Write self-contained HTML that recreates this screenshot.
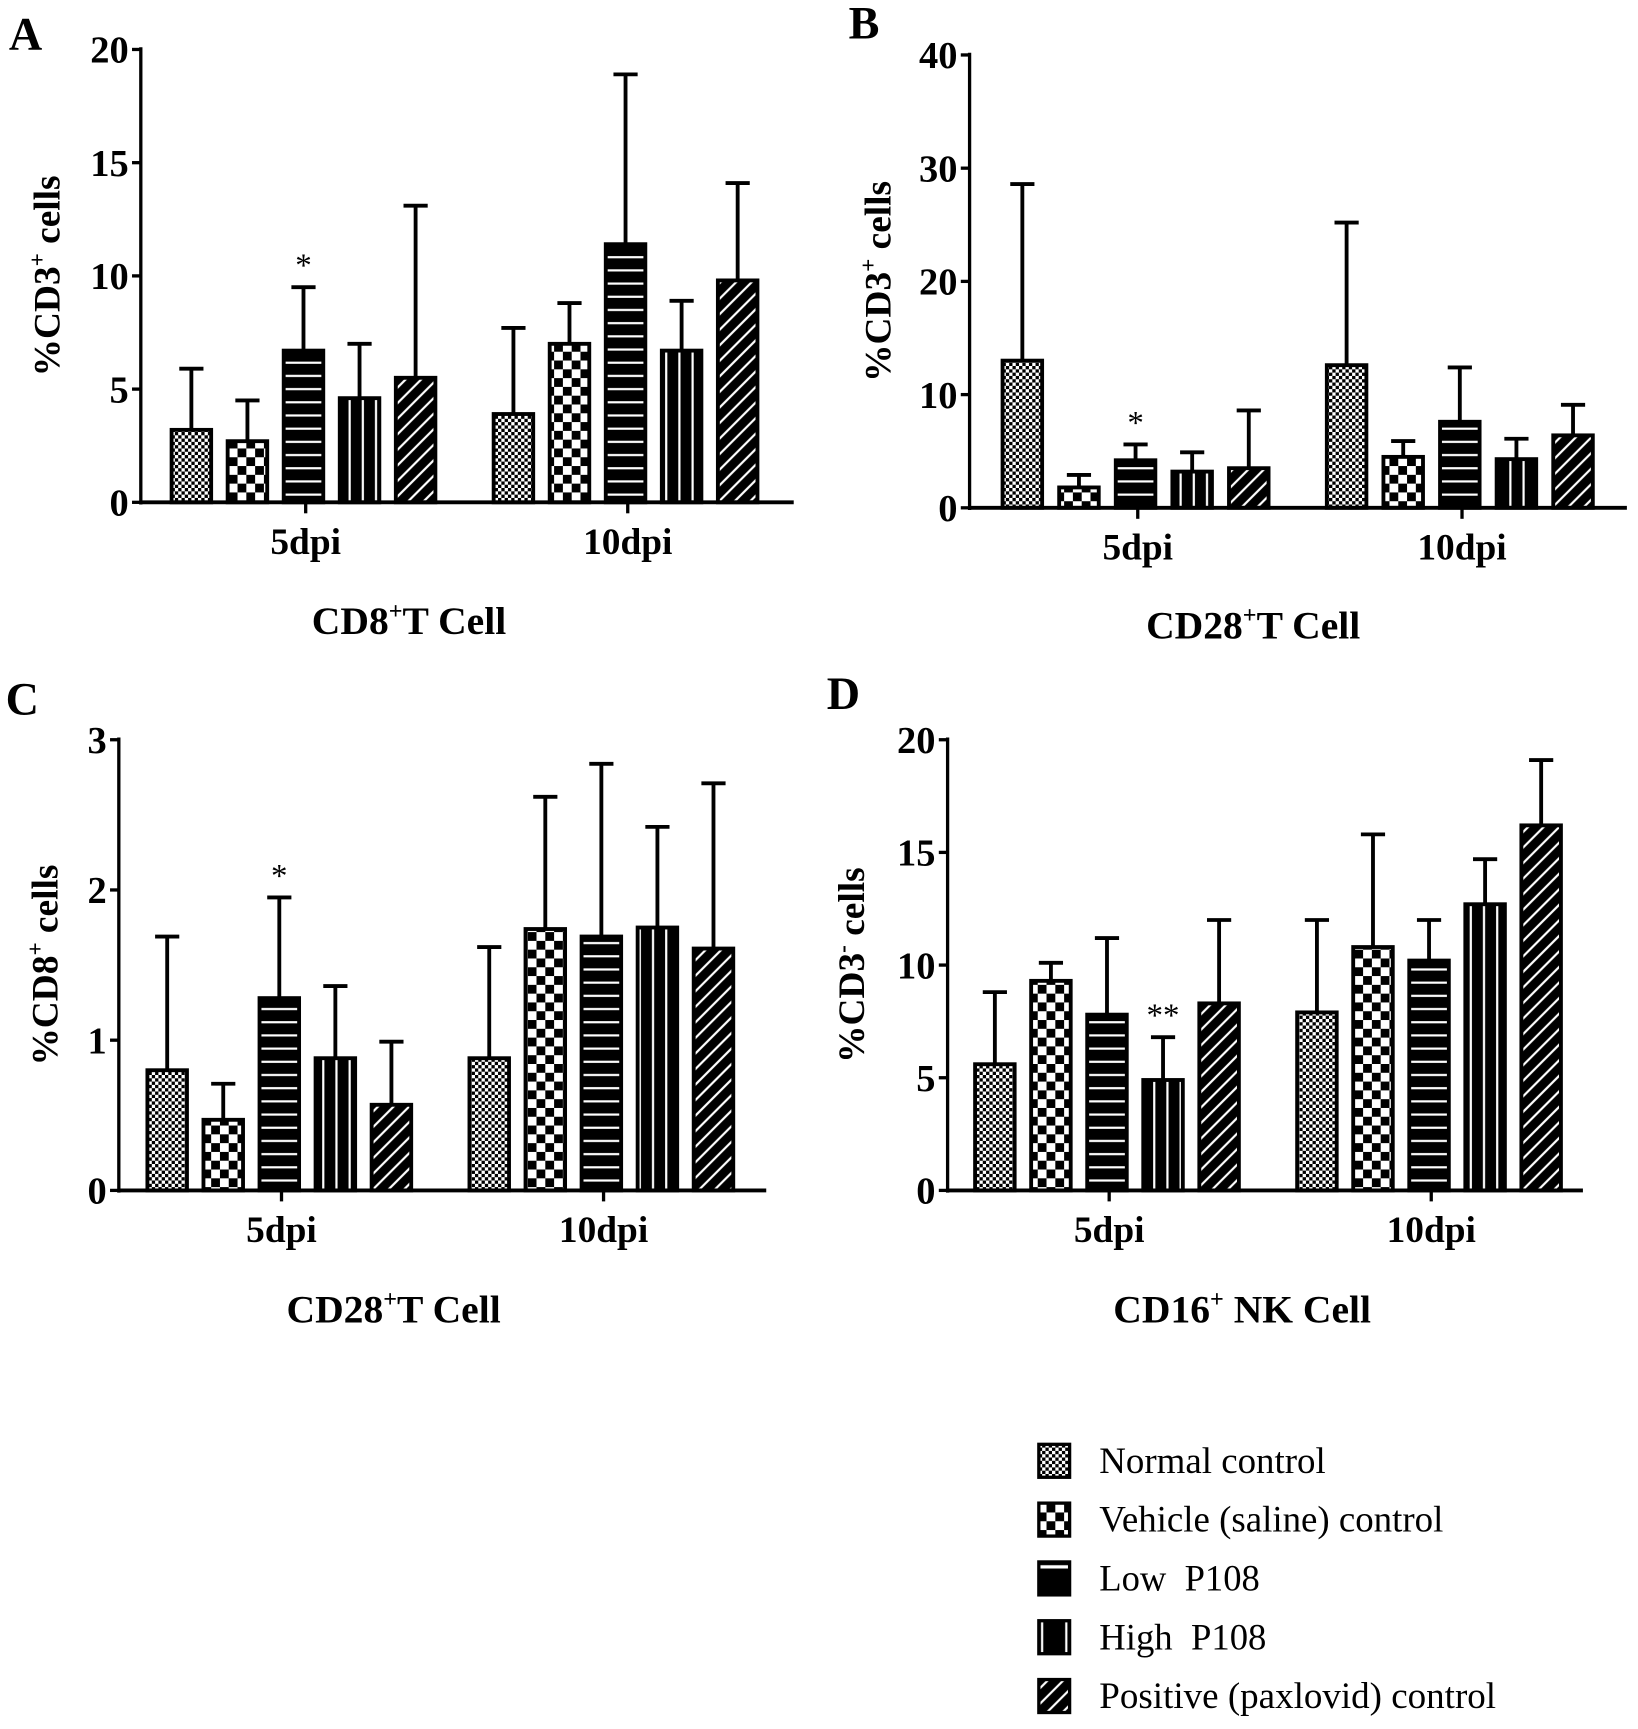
<!DOCTYPE html>
<html><head><meta charset="utf-8">
<style>
html,body{margin:0;padding:0;background:#fff;}
svg{display:block;}
text{font-family:"Liberation Serif",serif;fill:#000;}
.b{font-weight:bold;}
</style></head>
<body>
<svg id="fig" width="1638" height="1729" viewBox="0 0 1490 1573" xmlns="http://www.w3.org/2000/svg">
<defs>
<pattern id="p0" width="6" height="6" patternUnits="userSpaceOnUse"><rect width="6" height="6" fill="#fff"/><rect width="3" height="3" fill="#000"/><rect x="3" y="3" width="3" height="3" fill="#000"/></pattern>
<pattern id="p1" width="16" height="16" patternUnits="userSpaceOnUse"><rect width="16" height="16" fill="#fff"/><rect width="8" height="8" fill="#000"/><rect x="8" y="8" width="8" height="8" fill="#000"/></pattern>
<pattern id="p2" width="10" height="12" patternUnits="userSpaceOnUse"><rect width="10" height="12" fill="#000"/><rect y="5" width="10" height="2" fill="#fff"/></pattern>
<pattern id="p3" width="12" height="10" patternUnits="userSpaceOnUse"><rect width="12" height="10" fill="#000"/><rect x="5" width="2" height="10" fill="#fff"/></pattern>
<pattern id="p4" width="10" height="10" patternUnits="userSpaceOnUse" patternTransform="rotate(45)"><rect width="10" height="10" fill="#000"/><rect x="4" width="2" height="10" fill="#fff"/></pattern>
<pattern id="l2" width="30" height="30" patternUnits="userSpaceOnUse"><rect width="30" height="30" fill="#000"/><rect y="14" width="30" height="3" fill="#fff"/></pattern>
<pattern id="l3" width="30" height="30" patternUnits="userSpaceOnUse"><rect width="30" height="30" fill="#000"/><rect x="9" width="2" height="30" fill="#fff"/><rect x="17" width="2" height="30" fill="#fff"/></pattern>
</defs>
<g id="root"></g>
</svg>
<script>
// Panel A data
const aCats = ["5dpi","10dpi"];
const aMean = [[3.2,2.7,6.7,4.6,5.5],[3.9,7.0,11.4,6.7,9.8]];
const aErr  = [[5.9,4.5,9.5,7.0,13.1],[7.7,8.8,18.9,8.9,14.1]];
const aTicks = [0,5,10,15,20];
// Panel B data
const bMean = [[13.0,1.8,4.2,3.2,3.5],[12.6,4.5,7.6,4.3,6.4]];
const bErr  = [[28.6,2.9,5.6,4.9,8.6],[25.2,5.9,12.4,6.1,9.1]];
const bTicks = [0,10,20,30,40];
// Panel C data
const cMean = [[0.80,0.47,1.28,0.88,0.57],[0.88,1.74,1.69,1.75,1.61]];
const cErr  = [[1.69,0.71,1.95,1.36,0.99],[1.62,2.62,2.84,2.42,2.71]];
const cTicks = [0,1,2,3];
// Panel D data
const dMean = [[5.6,9.3,7.8,4.9,8.3],[7.9,10.8,10.2,12.7,16.2]];
const dErr  = [[8.8,10.1,11.2,6.8,12.0],[12.0,15.8,12.0,14.7,19.1]];
const dTicks = [0,5,10,15,20];
const seriesNames = ["Normal control","Vehicle (saline) control","Low\u00a0 P108","High\u00a0 P108","Positive (paxlovid) control"];

const NS="http://www.w3.org/2000/svg";
const root=document.getElementById('root');
function mk(tag,attrs,parent,txt){const e=document.createElementNS(NS,tag);for(const k in attrs)e.setAttribute(k,attrs[k]);if(txt!==undefined)e.textContent=txt;(parent||root).appendChild(e);return e;}

function panel(cfg){
  const g=mk('g',{});
  
  
  const x0=cfg.x0,x1=cfg.x1,yT=cfg.yTop,yZ=cfg.yZero,max=cfg.ticks[cfg.ticks.length-1];
  const ys=v=>yZ-(v/max)*(yZ-yT);
  const xs=(gi,si)=>cfg.g0[gi]+si*cfg.step;
  const bw=36;
  for(let gi=0;gi<2;gi++){
    for(let si=0;si<5;si++){
      const cx=xs(gi,si),v=cfg.mean[gi][si],e=cfg.err[gi][si];
      const el=mk('line',{x1:cx,x2:cx,y1:ys(v),y2:ys(e),stroke:'#000','stroke-width':3.5},g);
      
      
      const cap=mk('line',{x1:cx-11,x2:cx+11,y1:ys(e),y2:ys(e),stroke:'#000','stroke-width':3.5},g);
      
      
      const r=mk('rect',{x:cx-bw/2,y:ys(v),width:bw,height:yZ-ys(v),fill:'url(#p'+si+')',stroke:'#000','stroke-width':3.5},g);
      
      
    }
  }
  cfg.stars.forEach(s=>{
    const t=mk('text',{x:xs(s.g,s.s),y:ys(cfg.err[s.g][s.s])-10,'text-anchor':'middle','font-size':30},g,s.t);
    
    
  });
  const ya=mk('line',{x1:x0,x2:x0,y1:yT-2,y2:yZ+2,stroke:'#000','stroke-width':3},g);
  
  
  const xa=mk('line',{x1:x0,x2:x1,y1:yZ,y2:yZ,stroke:'#000','stroke-width':3.5},g);
  
  
  cfg.ticks.forEach(tv=>{
    mk('line',{x1:x0-8,x2:x0,y1:ys(tv),y2:ys(tv),stroke:'#000','stroke-width':3},g);
    const t=mk('text',{x:x0-11,y:ys(tv)+12,'text-anchor':'end','font-size':35,class:'b'},g,String(tv));
    
    
  });
  aCats.forEach((c,gi)=>{
    const cx=xs(gi,2)+2;
    mk('line',{x1:cx,x2:cx,y1:yZ,y2:yZ+10,stroke:'#000','stroke-width':3},g);
    const t=mk('text',{x:cx,y:yZ+47,'text-anchor':'middle','font-size':34,class:'b'},g,c);
    
    
  });
  const yc=(yT+yZ)/2;
  const yt=mk('text',{x:0,y:0,'text-anchor':'middle','font-size':34,class:'b',transform:'translate('+(cfg.ytx)+','+yc+') rotate(-90)'},g);
  
  
  mk('tspan',{},yt,cfg.ytitle[0]);
  mk('tspan',{dy:-13,'font-size':21},yt,cfg.ytitle[1]);
  mk('tspan',{dy:13},yt,' cells');
  const ct=mk('text',{x:cfg.tx,y:cfg.ty,'text-anchor':'middle','font-size':36,class:'b'},g);
  
  
  mk('tspan',{},ct,cfg.title[0]);
  mk('tspan',{dy:-14,'font-size':22},ct,cfg.title[1]);
  mk('tspan',{dy:14},ct,cfg.title[2]);
  const L=mk('text',{x:cfg.lx,y:cfg.ly,'font-size':42,class:'b'},g,cfg.letter);
  
  
}

panel({letter:'A',x0:128,x1:722,yTop:45,yZero:457,ticks:aTicks,mean:aMean,err:aErr,g0:[174,467],step:51,
  stars:[{g:0,s:2,t:'*'}],ytx:54,ytitle:['%CD3','+'],title:['CD8','+','T Cell'],tx:372,ty:577,lx:8,ly:45});
panel({letter:'B',x0:882,x1:1480,yTop:50,yZero:462,ticks:bTicks,mean:bMean,err:bErr,g0:[930,1225],step:51.5,
  stars:[{g:0,s:2,t:'*'}],ytx:810,ytitle:['%CD3','+'],title:['CD28','+','T Cell'],tx:1140,ty:581,lx:772,ly:35});
panel({letter:'C',x0:108,x1:697,yTop:673,yZero:1083,ticks:cTicks,mean:cMean,err:cErr,g0:[152,445],step:51,
  stars:[{g:0,s:2,t:'*'}],ytx:52,ytitle:['%CD8','+'],title:['CD28','+','T Cell'],tx:358,ty:1203,lx:5,ly:650});
panel({letter:'D',x0:862,x1:1440,yTop:673,yZero:1083,ticks:dTicks,mean:dMean,err:dErr,g0:[905,1198],step:51,
  stars:[{g:0,s:3,t:'**'}],ytx:786,ytitle:['%CD3','-'],title:['CD16','+',' NK Cell'],tx:1130,ty:1203,lx:752,ly:645});

const lg=mk('g',{});


const swFill=['url(#p0)','url(#p1)','url(#l2)','url(#l3)','url(#p4)'];
seriesNames.forEach((n,i)=>{
  const cy=1328+i*53.5;
  const r=mk('rect',{x:945,y:cy-14,width:28,height:30,fill:swFill[i],stroke:'#000','stroke-width':3},lg);
  
  
  const t=mk('text',{x:1000,y:cy+12,'font-size':34,textLength:{0:206,1:313,2:146,3:152,4:361}[i],lengthAdjust:'spacingAndGlyphs'},lg,n);
  
  
});
</script>
</body></html>
